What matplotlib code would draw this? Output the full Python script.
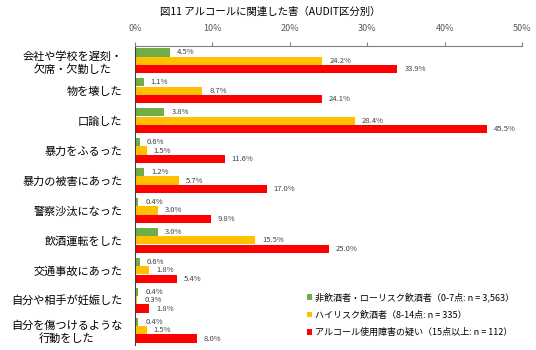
import matplotlib.pyplot as plt
import numpy as np

plt.rcParams['font.family'] = ['Noto Sans CJK JP', 'DejaVu Sans']

categories = ['会社や学校を遅刻・\n欠席・欠勤した', '物を壊した', '口論した', '暴力をふるった',
              '暴力の被害にあった', '警察沙汰になった', '飲酒運転をした', '交通事故にあった',
              '自分や相手が妊娠した', '自分を傷つけるような\n行動をした']
low_risk = [4.5, 1.1, 3.8, 0.6, 1.2, 0.4, 3.0, 0.6, 0.4, 0.4]
high_risk = [24.2, 8.7, 28.4, 1.5, 5.7, 3.0, 15.5, 1.8, 0.3, 1.5]
disorder = [33.9, 24.1, 45.5, 11.6, 17.0, 9.8, 25.0, 5.4, 1.8, 8.0]
series_labels = ['非飲酒者・ローリスク飲酒者（0-7点: n = 3,563）',
                 'ハイリスク飲酒者（8-14点: n = 335）',
                 'アルコール使用障害の疑い（15点以上: n = 112）']
colors = ['#70AD47', '#FFC000', '#FF0000']

fig = plt.figure(figsize=(5.36, 3.5), dpi=100)
ax = fig.add_axes([0.252, 0.014, 0.722, 0.855])

y = np.arange(len(categories))
h = 0.28
for i, (vals, lab, c) in enumerate(zip([low_risk, high_risk, disorder], series_labels, colors)):
    pos = y + (i - 1) * h
    ax.barh(pos, vals, height=h * 0.98, color=c, label=lab)
    for p, v in zip(pos, vals):
        ax.text(v + 0.9, p, f'{v:.1f}%', va='center', ha='left', fontsize=5.5, color='#404040')

ax.set_xlim(0, 50)
ax.set_ylim(len(categories) - 0.5, -0.5)
ax.set_yticks(y)
ax.set_yticklabels(categories, fontsize=8, linespacing=1.3, multialignment='center')
ax.set_xticks([0, 10, 20, 30, 40, 50])
ax.set_xticklabels(['0%', '10%', '20%', '30%', '40%', '50%'], fontsize=6.5, color='#595959')
ax.xaxis.tick_top()
ax.tick_params(axis='x', length=3, color='#808080', pad=6)
ax.tick_params(axis='y', length=0, pad=9)
for s in ['right', 'bottom']:
    ax.spines[s].set_visible(False)
ax.spines['top'].set_color('#808080')
ax.spines['left'].set_color('#404040')

ax.legend(loc='lower right', bbox_to_anchor=(1.0, 0.0), frameon=False, fontsize=6.5,
          handlelength=0.6, handleheight=0.6, handletextpad=0.3, labelspacing=0.9)

fig.text(0.505, 0.965, '図11 アルコールに関連した害（AUDIT区分別）', ha='center', va='center', fontsize=7.5)

fig.savefig('out.png', dpi=100)
